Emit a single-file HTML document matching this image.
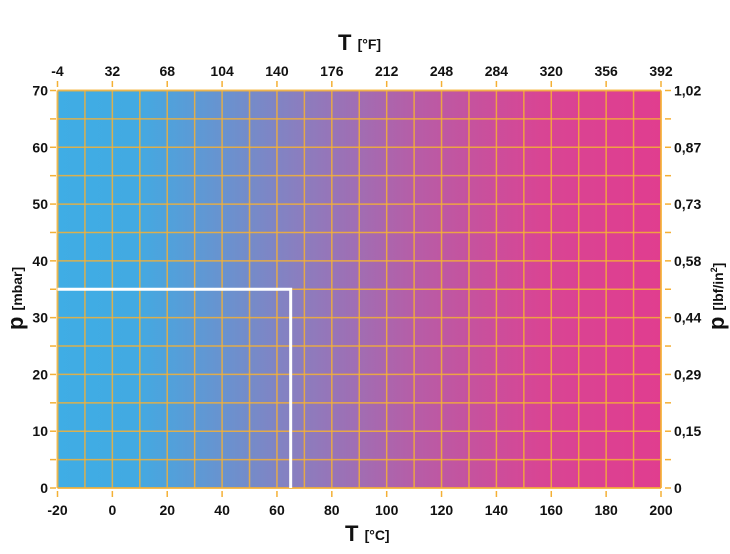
<!DOCTYPE html>
<html><head><meta charset="utf-8"><style>
body{margin:0;background:#fff;width:730px;height:549px;overflow:hidden;font-family:"Liberation Sans",Arial,sans-serif}
text{font-family:"Liberation Sans",Arial,sans-serif;font-weight:bold;fill:#111}
</style></head><body>
<svg id="chart" width="730" height="549" viewBox="0 0 730 549">
<defs><linearGradient id="bg" x1="0" x2="1" y1="0" y2="0">
<stop offset="0" stop-color="#3fade5"/><stop offset="0.13" stop-color="#42aae2"/>
<stop offset="0.4" stop-color="#8a7ebf"/><stop offset="0.6" stop-color="#b85ca6"/>
<stop offset="0.8" stop-color="#d84594"/><stop offset="1" stop-color="#e03d8f"/></linearGradient></defs>
<rect x="57.5" y="90.5" width="603.5" height="397.5" fill="url(#bg)"/>
<g id="grid"></g><g id="ticks"></g><g id="labels"></g>
<text x="338" y="50" font-size="22">T <tspan font-size="14" dy="-1">[°F]</tspan></text>
<text x="345" y="541" font-size="22">T <tspan font-size="14" dy="-1">[°C]</tspan></text>
<text transform="translate(23,330) rotate(-90)" font-size="22">p <tspan font-size="14" dy="-1">[mbar]</tspan></text>
<text transform="translate(724,330) rotate(-90)" font-size="22">p <tspan font-size="14" dy="-1">[lbf/in<tspan font-size="9" dy="-6">2</tspan><tspan dy="6">]</tspan></tspan></text>
<polyline id="marker" fill="none" stroke="#fff" stroke-width="3"/>
</svg>
<script>
const cTicks=[-20,0,20,40,60,80,100,120,140,160,180,200];
const fTicks=["-4","32","68","104","140","176","212","248","284","320","356","392"];
const pTicks=[0,10,20,30,40,50,60,70];
const psiTicks=["0","0,15","0,29","0,44","0,58","0,73","0,87","1,02"];
const reading=[65,35];
const X0=57.5,X1=661,Y0=488,Y1=90.5;
const sx=t=>X0+(t+20)/220*(X1-X0), sy=p=>Y0-p/70*(Y0-Y1);
const NS="http://www.w3.org/2000/svg";
function mk(tag,at,parent,txt){const e=document.createElementNS(NS,tag);for(const k in at)e.setAttribute(k,at[k]);if(txt!=null)e.textContent=txt;document.getElementById(parent).appendChild(e);return e;}
const OR="#f4b035";
for(let t=-20;t<=200;t+=10){const e=mk('line',{x1:sx(t),x2:sx(t),y1:Y1,y2:Y0,stroke:OR,'stroke-width':(t==-20||t==200)?2:1.5,'stroke-opacity':0.85},'grid');

}
for(let p=0;p<=70;p+=5){const e=mk('line',{x1:X0,x2:X1,y1:sy(p),y2:sy(p),stroke:OR,'stroke-width':(p==0||p==70)?2:1.5,'stroke-opacity':0.85},'grid');


const a=mk('line',{x1:50,x2:56,y1:sy(p),y2:sy(p),stroke:OR,'stroke-width':1.5},'ticks');


const b=mk('line',{x1:665,x2:671,y1:sy(p),y2:sy(p),stroke:OR,'stroke-width':1.5},'ticks');

}
cTicks.forEach((t,i)=>{
const a=mk('line',{x1:sx(t),x2:sx(t),y1:491,y2:497,stroke:OR,'stroke-width':1.5},'ticks');


const b=mk('line',{x1:sx(t),x2:sx(t),y1:81,y2:87,stroke:OR,'stroke-width':1.5},'ticks');


const l=mk('text',{x:sx(t),y:515,'text-anchor':'middle','font-size':14},'labels',String(t));


const f=mk('text',{x:sx(t),y:76,'text-anchor':'middle','font-size':14},'labels',fTicks[i]);

});
pTicks.forEach((p,i)=>{
const l=mk('text',{x:48,y:sy(p)+5,'text-anchor':'end','font-size':14},'labels',String(p));


const r=mk('text',{x:674,y:sy(p)+5,'font-size':14},'labels',psiTicks[i]);

});
document.getElementById('marker').setAttribute('points',`${X0},${sy(reading[1])} ${sx(reading[0])},${sy(reading[1])} ${sx(reading[0])},${Y0}`);
</script>
</body></html>
